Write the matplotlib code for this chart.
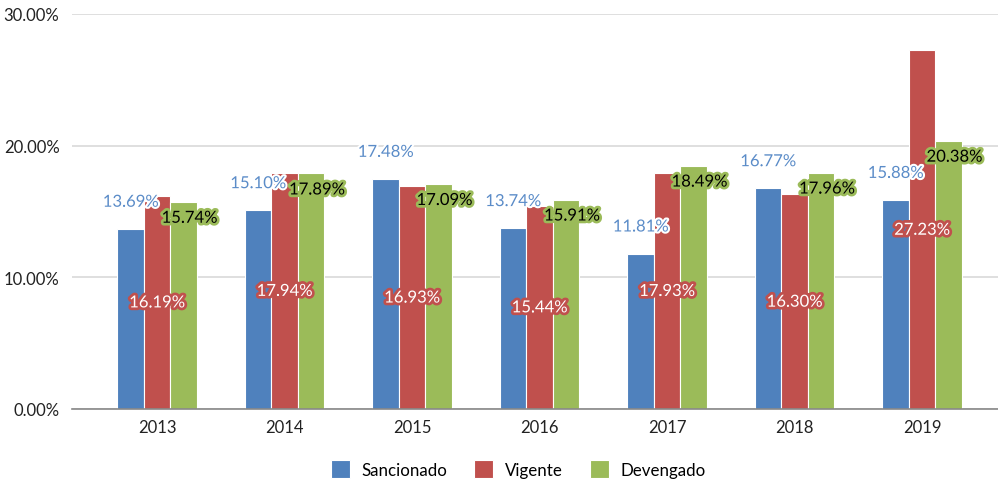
import numpy as np
import matplotlib.pyplot as plt
import matplotlib.patheffects as pe

years = ["2013", "2014", "2015", "2016", "2017", "2018", "2019"]
sancionado = [13.69, 15.10, 17.48, 13.74, 11.81, 16.77, 15.88]
vigente = [16.19, 17.94, 16.93, 15.44, 17.93, 16.30, 27.23]
devengado = [15.74, 17.89, 17.09, 15.91, 18.49, 17.96, 20.38]

blue = "#4F81BD"
red = "#C0504D"
green = "#9BBB59"

plt.rcParams['font.family'] = ['Lato', 'DejaVu Sans']

fig = plt.figure(figsize=(9.98, 4.81), dpi=100)
ax = fig.add_axes([72 / 998, 1 - 410 / 481, 1 - 72 / 998, (410 - 15) / 481])

x = np.arange(len(years))
w = 0.207

ax.bar(x - w, sancionado, w, color=blue, edgecolor="white", linewidth=0.8, label="Sancionado", zorder=2)
ax.bar(x, vigente, w, color=red, edgecolor="white", linewidth=0.8, label="Vigente", zorder=2)
ax.bar(x + w, devengado, w, color=green, edgecolor="white", linewidth=0.8, label="Devengado", zorder=2)

fs = 12
for i in range(len(years)):
    # blue: above the bar
    ax.annotate(f"{sancionado[i]:.2f}%", (x[i] - w, sancionado[i]), xytext=(0, 27),
                textcoords="offset pixels", ha="center", va="center", fontsize=fs,
                color="#5B8CC8", zorder=4,
                path_effects=[pe.withStroke(linewidth=3, foreground="white")])
    # red: middle of the bar
    ax.text(x[i], vigente[i] / 2, f"{vigente[i]:.2f}%", ha="center", va="center", fontsize=fs,
            color="white", zorder=5,
            path_effects=[pe.withStroke(linewidth=4, foreground=red)])
    # green: inside end
    ax.annotate(f"{devengado[i]:.2f}%", (x[i] + w, devengado[i]), xytext=(6, -16),
                textcoords="offset pixels", ha="center", va="center", fontsize=fs,
                color="black", zorder=5,
                path_effects=[pe.withStroke(linewidth=4, foreground=green)])

ax.set_xlim(-0.667, 6.596)
ax.set_ylim(0, 30)
ax.set_yticks([0, 10, 20, 30])
ax.set_yticklabels(["0.00%", "10.00%", "20.00%", "30.00%"])
ax.set_xticks(x)
ax.set_xticklabels(years)
ax.tick_params(axis="both", length=0, labelsize=12, colors="#222222")
ax.tick_params(axis="y", pad=9)
ax.tick_params(axis="x", pad=7)

ax.grid(axis="y", color="#D9D9D9", linewidth=1.2, zorder=0)
ax.set_axisbelow(True)
for s in ["top", "right", "left"]:
    ax.spines[s].set_visible(False)
ax.spines["bottom"].set_color("#888888")
ax.spines["bottom"].set_linewidth(1.2)

ax.legend(loc="upper center", bbox_to_anchor=(0.482, -0.09), ncol=3, frameon=False,
          fontsize=12.2, handlelength=1.1, handleheight=1.3, columnspacing=1.6, handletextpad=0.7)

fig.savefig("out.png", dpi=100)
